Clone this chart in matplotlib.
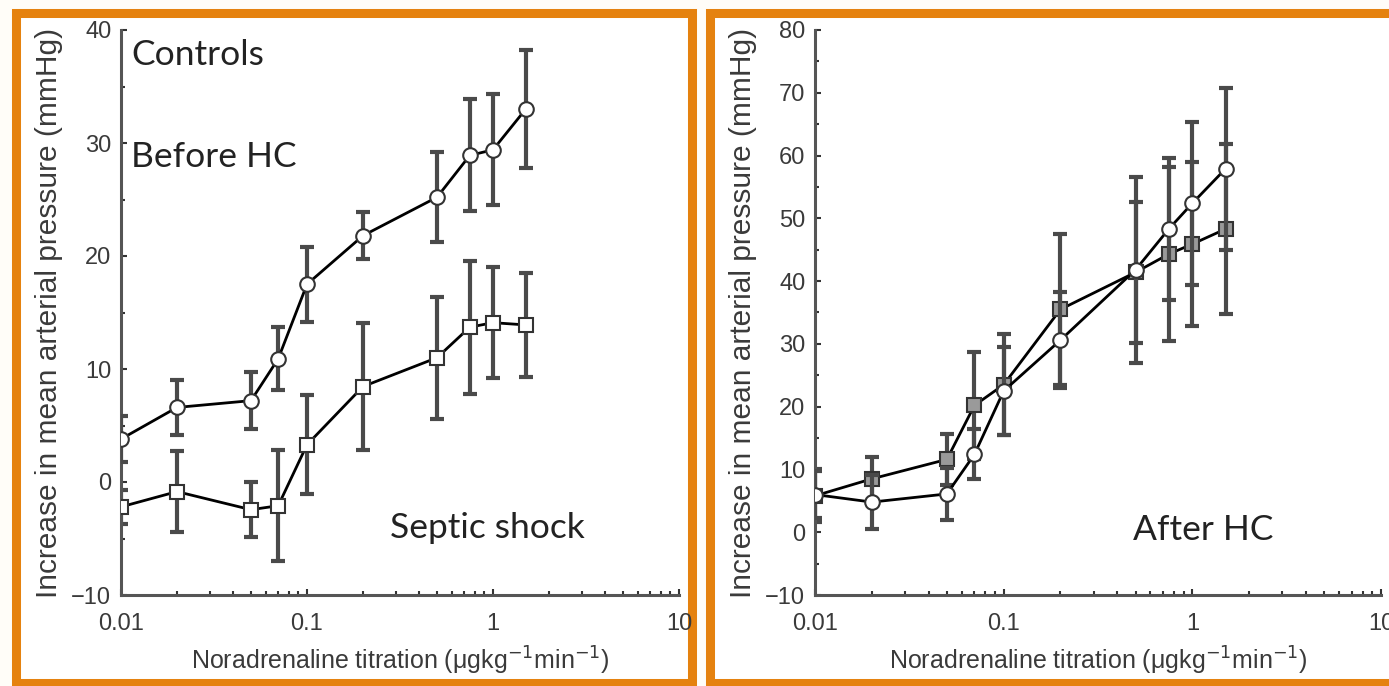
import matplotlib
matplotlib.use("Agg")
import matplotlib.pyplot as plt
from matplotlib.patches import Rectangle
from matplotlib.ticker import FixedLocator, NullFormatter, LogLocator, MultipleLocator

# Noradrenaline doses (µg kg-1 min-1)
doses = [0.01, 0.02, 0.05, 0.07, 0.1, 0.2, 0.5, 0.75, 1.0, 1.5]

# Before hydrocortisone
controls_mean = [3.8, 6.6, 7.2, 10.9, 17.5, 21.8, 25.2, 28.9, 29.4, 33.0]
controls_err = [2.0, 2.4, 2.5, 2.8, 3.3, 2.1, 4.0, 4.95, 4.9, 5.2]
septic_mean = [-2.2, -0.85, -2.45, -2.1, 3.3, 8.45, 11.0, 13.7, 14.1, 13.9]
septic_err = [1.5, 3.55, 2.45, 4.9, 4.4, 5.6, 5.4, 5.9, 4.9, 4.6]

# After hydrocortisone
after_a_mean = [6.0, 4.8, 6.1, 12.4, 22.5, 30.6, 41.8, 48.3, 52.4, 57.9]
after_a_err = [3.8, 4.3, 4.2, 4.0, 7.0, 7.6, 14.8, 11.3, 13.0, 12.9]
after_b_mean = [5.8, 8.5, 11.6, 20.2, 23.5, 35.5, 41.4, 44.3, 45.9, 48.3]
after_b_err = [4.2, 3.5, 4.0, 8.5, 8.0, 12.0, 11.2, 13.8, 13.0, 13.5]

xtick_vals = [0.01, 0.1, 1, 10]
xtick_labels = ["0.01", "0.1", "1", "10"]

W, H = 1389, 686
fig = plt.figure(figsize=(W / 100, H / 100), dpi=100)
fig.patch.set_facecolor("#fffdf8")

ORANGE = "#e5820f"
TXT = "#3a3a3a"
TICK_FONT = "Liberation Sans"
NOTE_FONT = "Lato"


def px_box(x0, y0, x1, y1):
    return [x0 / W, 1 - y1 / H, (x1 - x0) / W, (y1 - y0) / H]


# panel frames, kept underneath the axes
for (x0, y0, x1, y1) in [(16, 13, 692, 683), (710, 13, 1400, 683)]:
    fig.patches.append(Rectangle((x0 / W, 1 - y1 / H), (x1 - x0) / W, (y1 - y0) / H,
                                 transform=fig.transFigure, facecolor="white",
                                 edgecolor=ORANGE, linewidth=6.5, zorder=-5))


def style_axes(ax, ylim, ystep):
    ax.set_xscale("log")
    ax.set_xlim(0.01, 10)
    ax.set_ylim(*ylim)
    ax.set_facecolor("none")
    for s in ("top", "right"):
        ax.spines[s].set_visible(False)
    for s in ("left", "bottom"):
        ax.spines[s].set_color("#555555")
        ax.spines[s].set_linewidth(2.2)
    ax.xaxis.set_major_locator(FixedLocator(xtick_vals))
    ax.set_xticklabels(xtick_labels)
    ax.xaxis.set_minor_locator(LogLocator(base=10, subs=range(2, 10)))
    ax.xaxis.set_minor_formatter(NullFormatter())
    ax.yaxis.set_major_locator(MultipleLocator(ystep))
    ax.yaxis.set_minor_locator(MultipleLocator(ystep / 2))
    ax.tick_params(which="both", direction="in", color="#333333", width=1.5,
                   labelsize=17, labelcolor=TXT)
    ax.tick_params(which="major", length=4)
    ax.tick_params(which="minor", length=3)
    ax.tick_params(axis="x", which="major", pad=13)
    ax.tick_params(axis="y", which="major", pad=7)
    ax.set_xlabel(r"Noradrenaline titration (μgkg$^{-1}$min$^{-1}$)",
                  fontsize=18, color=TXT, family=TICK_FONT, labelpad=7)
    ax.set_ylabel("Increase in mean arterial pressure (mmHg)",
                  fontsize=21.5, color=TXT, family=TICK_FONT, labelpad=6)
    ax.set_yticks(ax.get_yticks())
    ax.set_yticklabels([f"{int(v)}" if v >= 0 else f"\u2212{int(-v)}"
                        for v in ax.get_yticks()])
    ax.set_ylim(*ylim)
    for lab in ax.get_xticklabels() + ax.get_yticklabels():
        lab.set_family(TICK_FONT)
    ax.set_zorder(3)


def series(ax, y, err, marker, face, z):
    _, caps, bars = ax.errorbar(doses, y, yerr=err, fmt="none", ecolor="#4a4a4a",
                                elinewidth=3.0, capsize=5.2, capthick=3, zorder=z)
    for c in caps:
        c.set_color("#111111")
    ax.plot(doses, y, color="black", linewidth=2.0, zorder=z + 1)
    ax.plot(doses, y, linestyle="none", marker=marker, markersize=10.5,
            markerfacecolor=face, markeredgecolor="#333333",
            markeredgewidth=1.5, zorder=z + 2)


ax1 = fig.add_axes(px_box(121, 30, 679, 595))
ax1.set_xscale("log")
series(ax1, septic_mean, septic_err, "s", "white", 2)
series(ax1, controls_mean, controls_err, "o", "white", 5)
style_axes(ax1, (-10, 40), 10)

ax2 = fig.add_axes(px_box(815, 30, 1381, 595))
ax2.set_xscale("log")
series(ax2, after_b_mean, after_b_err, "s", "#9a9a9a", 2)
series(ax2, after_a_mean, after_a_err, "o", "white", 5)
style_axes(ax2, (-10, 80), 10)

notes = [("Controls", 131, 55), ("Before HC", 131, 157),
         ("Septic shock", 390, 528), ("After HC", 1133, 530)]
for text, x, y in notes:
    fig.text(x / W, 1 - y / H, text, fontsize=25.5, color="#222222",
             family=NOTE_FONT, ha="left", va="center", zorder=10)

fig.savefig("out.png", dpi=100, facecolor=fig.get_facecolor())
